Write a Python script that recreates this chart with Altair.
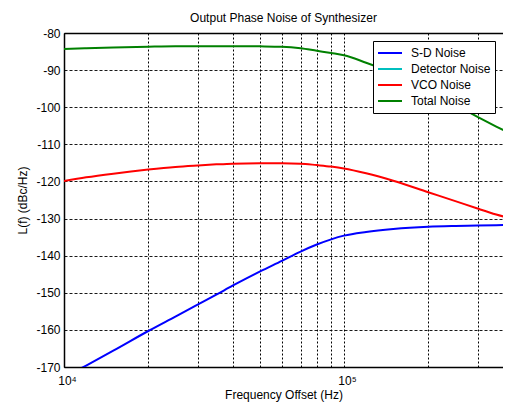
import altair as alt
import pandas as pd

# Frequencies (Hz) and noise levels (dBc/Hz)
freq = [1e4, 1.2e4, 1.5e4, 2e4, 2.5e4, 3e4, 3.5e4, 4e4, 5e4, 6e4, 7e4, 8e4, 9e4,
        1e5, 1.2e5, 1.5e5, 2e5, 2.5e5, 3e5, 3.5e5, 4e5]
sd_noise = [-172.8, -169.6, -165.6, -160.3, -156.4, -153.2, -150.5, -148.1, -144.3,
            -141.4, -138.9, -137.0, -135.6, -134.6, -133.6, -132.8, -132.2, -132.0,
            -131.9, -131.8, -131.7]
vco_noise = [-119.9, -118.9, -117.9, -116.8, -116.1, -115.7, -115.4, -115.2, -115.1,
             -115.1, -115.2, -115.6, -116.0, -116.5, -117.8, -119.8, -122.9, -125.3,
             -127.3, -128.9, -130.1]
total_noise = [-84.3, -84.1, -83.9, -83.7, -83.6, -83.6, -83.55, -83.55, -83.6,
               -83.7, -84.1, -84.8, -85.4, -86.0, -88.0, -90.8, -95.2, -99.4,
               -102.6, -105.2, -107.4]

series_names = ["S-D Noise", "Detector Noise", "VCO Noise", "Total Noise"]
series_colors = ["#0000FF", "#00BFBF", "#FF0000", "#008000"]

y_ticks = [-170, -160, -150, -140, -130, -120, -110, -100, -90, -80]
x_ticks = [1e4, 2e4, 3e4, 4e4, 5e4, 6e4, 7e4, 8e4, 9e4, 1e5, 2e5, 3e5]

rows = []
for name, vals in [("S-D Noise", sd_noise), ("VCO Noise", vco_noise), ("Total Noise", total_noise)]:
    for f, v in zip(freq, vals):
        rows.append({"f": f, "L": v, "series": name, "order": series_names.index(name)})
df = pd.DataFrame(rows)

FONT = "Liberation Sans"

xscale = alt.Scale(type="log", domain=[1e4, 3.7e5], nice=False)
yscale = alt.Scale(domain=[-170, -80], nice=False, zero=False)

yaxis = alt.Axis(values=y_ticks, title="L(f)  (dBc/Hz)",
                 labelExpr="toString(datum.value)",
                 labelFont=FONT, labelFontSize=12, labelColor="black",
                 titleFont=FONT, titleFontSize=12, titleFontWeight="normal", titleColor="black",
                 ticks=False, tickSize=0, labelPadding=4, grid=True,
                 gridColor="black", gridDash=[3, 2], gridWidth=1, gridOpacity=0.9,
                 domainColor="black", domainWidth=1.5,
                 titlePadding=6)

lines = alt.Chart(df).mark_line(strokeWidth=2, clip=True, interpolate="monotone").encode(
    x=alt.X("f:Q", scale=xscale,
            axis=alt.Axis(values=x_ticks, title="Frequency Offset (Hz)",
                          labelExpr="datum.value == 10000 ? '10⁴' : (datum.value == 100000 ? '10⁵' : '')",
                          labelFont=FONT, labelFontSize=12, labelColor="black",
                          titleFont=FONT, titleFontSize=12, titleFontWeight="normal",
                          titleColor="black",
                          labelOverlap=False, labelFlush=False, labelBound=False,
                          labelAlign="center", labelOffset=3, labelPadding=8,
                          ticks=False, tickSize=0, grid=True,
                          gridColor="black", gridDash=[2, 2], gridWidth=1, gridOpacity=1,
                          domainColor="black", domainWidth=1.5,
                          titlePadding=3)),
    y=alt.Y("L:Q", scale=yscale, axis=yaxis),
    color=alt.Color("series:N",
                    scale=alt.Scale(domain=series_names, range=series_colors),
                    legend=alt.Legend(orient="none", legendX=309, legendY=8, title=None,
                                      symbolType="stroke", symbolSize=576, symbolStrokeWidth=2,
                                      fillColor="white", strokeColor="black", padding=4,
                                      rowPadding=0, clipHeight=16, labelOffset=8,
                                      labelFont=FONT, labelFontSize=12, labelColor="black",
                                      labelExpr="datum.label + '\u00a0'",
                                      cornerRadius=0)),
    order="order:Q",
)

top_axis = alt.Chart(df).mark_point(opacity=0).encode(
    x=alt.X("f:Q", scale=xscale,
            axis=alt.Axis(orient="top", labels=False, ticks=False, grid=False, title=None,
                          domainColor="black", domainWidth=1.5)),
    y=alt.Y("L:Q", scale=yscale, axis=yaxis),
)

chart = alt.layer(lines, top_axis).resolve_axis(x="independent").properties(
    width=439, height=334,
    autosize="none",
    padding={"left": 56, "top": 25, "right": 0, "bottom": 42},
    title=alt.TitleParams("Output Phase Noise of Synthesizer", font=FONT, fontSize=12,
                          fontWeight="normal", color="black", anchor="middle", offset=2),
).configure_view(stroke=None).configure(background="white")

chart.save("out.html", embed_options={"renderer": "svg", "actions": False})
